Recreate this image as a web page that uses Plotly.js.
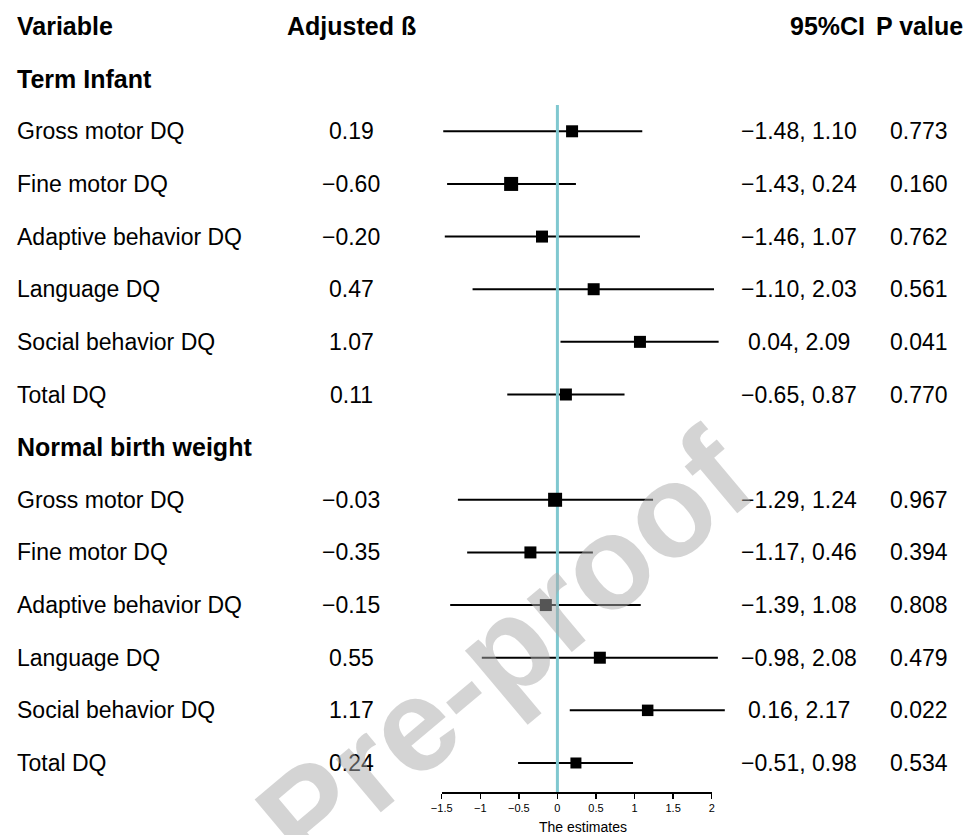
<!DOCTYPE html>
<html>
<head>
<meta charset="utf-8">
<script src="https://cdn.plot.ly/plotly-3.0.1.min.js"></script>
<style>html,body{margin:0;padding:0;background:#fff;}#chart{width:969px;height:835px;}</style>
</head>
<body>
<div id="chart"></div>
<script>
// ---- data ----
const headers = ["Variable", "Adjusted ß", "95%CI", "P value"];
const groups = ["Term Infant", "Normal birth weight"];
const categories = ["Gross motor DQ", "Fine motor DQ", "Adaptive behavior DQ", "Language DQ", "Social behavior DQ", "Total DQ"];
const termEst = [0.19, -0.60, -0.20, 0.47, 1.07, 0.11];
const termLo  = [-1.48, -1.43, -1.46, -1.10, 0.04, -0.65];
const termHi  = [1.10, 0.24, 1.07, 2.03, 2.09, 0.87];
const termP   = ["0.773", "0.160", "0.762", "0.561", "0.041", "0.770"];
const nbwEst = [-0.03, -0.35, -0.15, 0.55, 1.17, 0.24];
const nbwLo  = [-1.29, -1.17, -1.39, -0.98, 0.16, -0.51];
const nbwHi  = [1.24, 0.46, 1.08, 2.08, 2.17, 0.98];
const nbwP   = ["0.967", "0.394", "0.808", "0.479", "0.022", "0.534"];
const tickVals = [-1.5, -1, -0.5, 0, 0.5, 1, 1.5, 2];
const axisTitle = "The estimates";
const watermark = "Pre-proof";

// ---- styles ----
const boxTerm = [12, 14, 12, 12, 12, 12];
const boxNbw  = [14, 12, 12, 12, 11.5, 11];
const W = 969, H = 835;
const FONT = "Liberation Sans, Arial, sans-serif";
const bodySize = 23, headSize = 25;
const px = v => v / W;
const axL = 441.7, axR = 711.7;               // pixel extent of the visible axis
const xMin = -1.5, xMax = 2;
const k = (axR - axL) / (xMax - xMin);        // px per unit
const x2Range = [xMin - axL / k, xMax + (W - axR) / k];

const fmt = v => v.toFixed(2).replace("-", "\u2212");

// row layout: 0 header, 1 group1, 2..7 items, 8 group2, 9..14 items
const termRows = categories.map((_, i) => 2 + i);
const nbwRows = categories.map((_, i) => 9 + i);
const yRange = [14.551, -0.494];

const allEst = termEst.concat(nbwEst);
const allLo = termLo.concat(nbwLo);
const allHi = termHi.concat(nbwHi);
const allP = termP.concat(nbwP);
const allRows = termRows.concat(nbwRows);
const allBox = boxTerm.concat(boxNbw);

// whisker segments
const segX = [], segY = [];
allRows.forEach((r, i) => { segX.push(allLo[i], allHi[i], null); segY.push(r, r, null); });

const traces = [
  {type: "scatter", mode: "markers", x: [null], y: [null], xaxis: "x", yaxis: "y", hoverinfo: "skip", showlegend: false},
  {type: "scatter", mode: "lines", x: segX, y: segY, xaxis: "x2", yaxis: "y",
   line: {color: "#000", width: 2}, hoverinfo: "skip", showlegend: false},
  {type: "scatter", mode: "lines", x: [0, 0], y: [1.5, yRange[0]], xaxis: "x2", yaxis: "y",
   line: {color: "#80C8D0", width: 3}, hoverinfo: "skip", showlegend: false},
  {type: "scatter", mode: "markers", x: allEst, y: allRows, xaxis: "x2", yaxis: "y",
   marker: {symbol: "square", size: allBox, color: "#000", opacity: 1, line: {width: 0}}, showlegend: false}
];

const ann = [];
const txt = (text, x, y, anchor, bold) => ann.push({
  text: bold ? "<b>" + text + "</b>" : text, xref: "paper", yref: "y", x: px(x), y: y,
  xanchor: anchor, yanchor: "middle", showarrow: false,
  font: {family: FONT, size: bold ? headSize : bodySize, color: "#000"}
});
// header row
txt(headers[0], 15, 0, "left", true);
txt(headers[1], 351, 0, "center", true);
txt(headers[2], 867, 0, "right", true);
txt(headers[3], 919, 0, "center", true);
// group titles
txt(groups[0], 15, 1, "left", true);
txt(groups[1], 15, 8, "left", true);
// item rows
allRows.forEach((r, i) => {
  txt(categories[i % categories.length], 15, r, "left", false);
  txt(fmt(allEst[i]), 351, r, "center", false);
  txt(fmt(allLo[i]) + ", " + fmt(allHi[i]), 799, r, "center", false);
  txt(allP[i], 919, r, "center", false);
});
// axis title
ann.push({text: axisTitle, xref: "paper", yref: "paper", x: px(583), y: -35 / 792,
  xanchor: "center", yanchor: "middle", showarrow: false, font: {family: FONT, size: 14, color: "#000"}});
// watermark
ann.push({text: watermark, xref: "paper", yref: "paper", x: px(505), y: (792 - 648) / 792,
  xanchor: "center", yanchor: "middle", showarrow: false, textangle: -40,
  font: {family: FONT, size: 132, weight: "bold", color: "rgba(170,170,170,0.5)"}});

const layout = {
  width: W, height: H,
  margin: {l: 0, r: 0, t: 0, b: 43, pad: 0},
  paper_bgcolor: "#fff", plot_bgcolor: "rgba(0,0,0,0)",
  showlegend: false,
  xaxis: {
    domain: [axL / W, axR / W], range: [xMin, xMax], fixedrange: true, anchor: "y",
    tickvals: tickVals, ticktext: tickVals.map(v => String(v).replace("-", "\u2212")),
    ticks: "outside", ticklen: 5, tickwidth: 1.5, tickcolor: "#000",
    showline: true, linecolor: "#000", linewidth: 2, showgrid: false, zeroline: false,
    tickfont: {family: FONT, size: 11, color: "#000"}
  },
  xaxis2: {domain: [0, 1], range: x2Range, anchor: "y", visible: false, showgrid: false, zeroline: false, fixedrange: true},
  yaxis: {range: yRange, visible: false, showgrid: false, zeroline: false, fixedrange: true},
  annotations: ann
};

Plotly.newPlot("chart", traces, layout, {displayModeBar: false, staticPlot: true});
</script>
</body>
</html>
